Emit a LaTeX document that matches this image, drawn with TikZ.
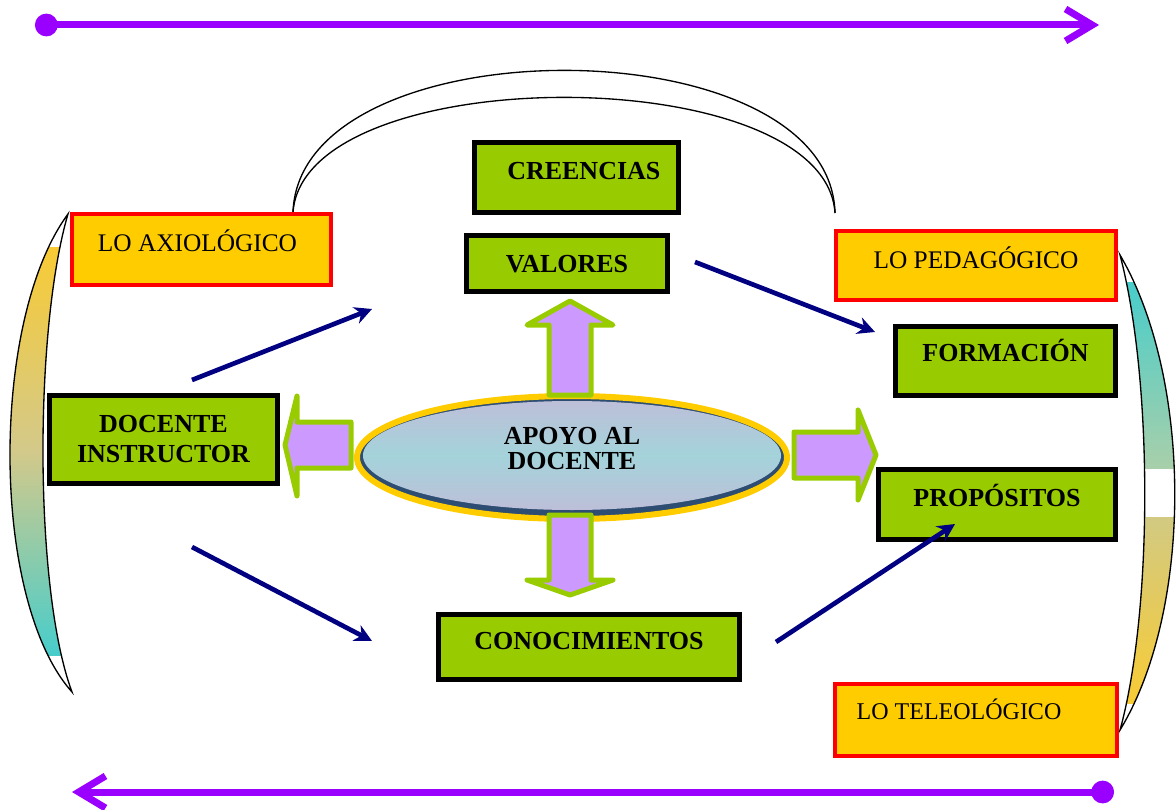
\documentclass[tikz,border=0pt]{standalone}
\usepackage{fontspec}
\setmainfont{Liberation Serif}
\usetikzlibrary{arrows.meta}
\definecolor{boxgreen}{HTML}{99CC00}
\definecolor{boxgold}{HTML}{FFCC00}
\definecolor{arrowlilac}{HTML}{CC99FF}
\definecolor{linepurple}{HTML}{9900FF}
\definecolor{navyline}{HTML}{000080}
\definecolor{rimblue}{HTML}{2E4D72}
\definecolor{ovaltop}{HTML}{BDBFD9}
\definecolor{ovalmid}{HTML}{A4D3DA}
\definecolor{crestgold}{HTML}{F8CB35}
\definecolor{crestsand}{HTML}{D3C98A}
\definecolor{cresteal}{HTML}{48CDCB}
\definecolor{crestsage}{HTML}{A8CFAA}
\definecolor{crestkhaki}{HTML}{D2CA82}
\begin{document}
\begin{tikzpicture}[x=0.75pt,y=-0.75pt,
  greenbox/.style={draw=black,line width=3.75pt,fill=boxgreen,
    font=\fontsize{19.5}{22.5}\selectfont\bfseries},
  goldbox/.style={draw=red,line width=3pt,fill=boxgold,
    font=\fontsize{19}{22}\selectfont},
  lift/.style={text height=13pt,text depth=#1},
  navyarrow/.style={navyline,line width=3.5pt,-{Stealth[length=13pt,width=13pt]}},
  timeline/.style={linepurple,line width=5.25pt,line cap=round,
    {Circle[length=17pt]}-{Straight Barb[length=20pt,width=24pt]}},
  blockarrow/.style={draw=boxgreen,line width=3.75pt,fill=arrowlilac,line join=round},
  crescent/.style={draw=black,line width=1pt}]
  \useasboundingbox (0,0) rectangle (1176,809);

  \coordinate (topstart) at (35,25);
  \coordinate (topend) at (1099,25);
  \coordinate (botstart) at (1114,792);
  \coordinate (botend) at (72,792);
  \draw[timeline] (topstart) -- (topend);
  \draw[timeline] (botstart) -- (botend);

  \begin{scope}
    \clip (68,214) .. controls (-10,320) and (-10,600) .. (72,692)
      .. controls (34,590) and (34,330) .. (68,214);
    \shade[top color=crestgold,bottom color=cresteal,middle color=crestsand]
      (0,247) rectangle (80,655);
  \end{scope}
  \draw[crescent] (68,214) .. controls (-10,320) and (-10,600) .. (72,692)
    .. controls (34,590) and (34,330) .. (68,214) -- cycle;

  \begin{scope}
    \clip (1120,255) .. controls (1193,380) and (1193,610) .. (1120,730)
      .. controls (1153,610) and (1153,380) .. (1120,255);
    \shade[top color=cresteal,bottom color=crestsage] (1110,282) rectangle (1180,468);
    \shade[top color=crestkhaki,bottom color=crestgold] (1110,517) rectangle (1180,703);
  \end{scope}
  \draw[crescent] (1120,255) .. controls (1193,380) and (1193,610) .. (1120,730)
    .. controls (1153,610) and (1153,380) .. (1120,255) -- cycle;

  \draw[crescent] (293,212) .. controls (300,23) and (830,23) .. (835,213);
  \draw[crescent] (293,212) .. controls (305,59) and (825,59) .. (835,213);

  \fill[rimblue] (572,457.5) ellipse [x radius=213,y radius=59];
  \shade[top color=ovaltop,bottom color=ovaltop,middle color=ovalmid]
    (572,455.5) ellipse [x radius=209,y radius=54.5];
  \draw[boxgold,line width=4.5pt] (572,457.5) ellipse [x radius=215,y radius=61.5];
  \node[font=\fontsize{19.5}{18.75}\selectfont\bfseries,align=center] (apoyo)
    at (572,449) {APOYO AL\\DOCENTE};

  \draw[blockarrow] (570,301) -- (613,325) -- (591,325) -- (591,395)
    -- (549,395) -- (549,325) -- (527,325) -- cycle;
  \draw[blockarrow] (570,595) -- (527,580) -- (549,580) -- (549,515)
    -- (591,515) -- (591,580) -- (613,580) -- cycle;
  \draw[blockarrow] (285,445) -- (297,396) -- (297,422) -- (351,422)
    -- (351,468) -- (297,468) -- (297,496) -- cycle;
  \draw[blockarrow] (876,455) -- (858,410) -- (858,432) -- (794,432)
    -- (794,478) -- (858,478) -- (858,500) -- cycle;

  \node[greenbox,lift=9.75pt,minimum width=153pt,minimum height=52.5pt]
    (creencias) at (576.5,177.5) {\hspace*{11pt}CREENCIAS};
  \node[greenbox,lift=0pt,minimum width=150.75pt,minimum height=42pt]
    (valores) at (567,263.5) {VALORES};
  \node[greenbox,lift=12pt,minimum width=165pt,minimum height=51.75pt]
    (formacion) at (1005.5,361) {FORMACIÓN};
  \node[greenbox,lift=9.75pt,minimum width=177.75pt,minimum height=52.5pt]
    (propositos) at (997,504.5) {PROPÓSITOS};
  \node[greenbox,lift=9pt,minimum width=225.75pt,minimum height=48.75pt]
    (conocimientos) at (589,647) {CONOCIMIENTOS};
  \node[greenbox,align=center,minimum width=171pt,minimum height=66pt]
    (docente) at (163.5,439.5) {DOCENTE\\INSTRUCTOR};

  \node[goldbox,lift=9.75pt,minimum width=194.25pt,minimum height=53.25pt]
    (axiologico) at (201.5,249.5) {LO AXIOLÓGICO\hspace*{6pt}};
  \node[goldbox,lift=8.25pt,minimum width=210pt,minimum height=51.75pt]
    (pedagogico) at (976,265.5) {LO PEDAGÓGICO};
  \node[goldbox,font=\fontsize{18}{21}\selectfont,lift=13.5pt,
    minimum width=211.5pt,minimum height=54pt]
    (teleologico) at (976,720) {LO TELEOLÓGICO\hspace*{25.5pt}};

  \coordinate (fromdocup) at (192,380);
  \coordinate (toaxio) at (372,309);
  \coordinate (fromvalores) at (695,262);
  \coordinate (toformacion) at (875,332);
  \coordinate (fromdocdown) at (192,547);
  \coordinate (toconoc) at (372,641);
  \coordinate (fromconoc) at (776,642);
  \coordinate (toproposito) at (955,524);
  \draw[navyarrow] (fromdocup) -- (toaxio);
  \draw[navyarrow] (fromvalores) -- (toformacion);
  \draw[navyarrow] (fromdocdown) -- (toconoc);
  \draw[navyarrow] (fromconoc) -- (toproposito);
\end{tikzpicture}
\end{document}
